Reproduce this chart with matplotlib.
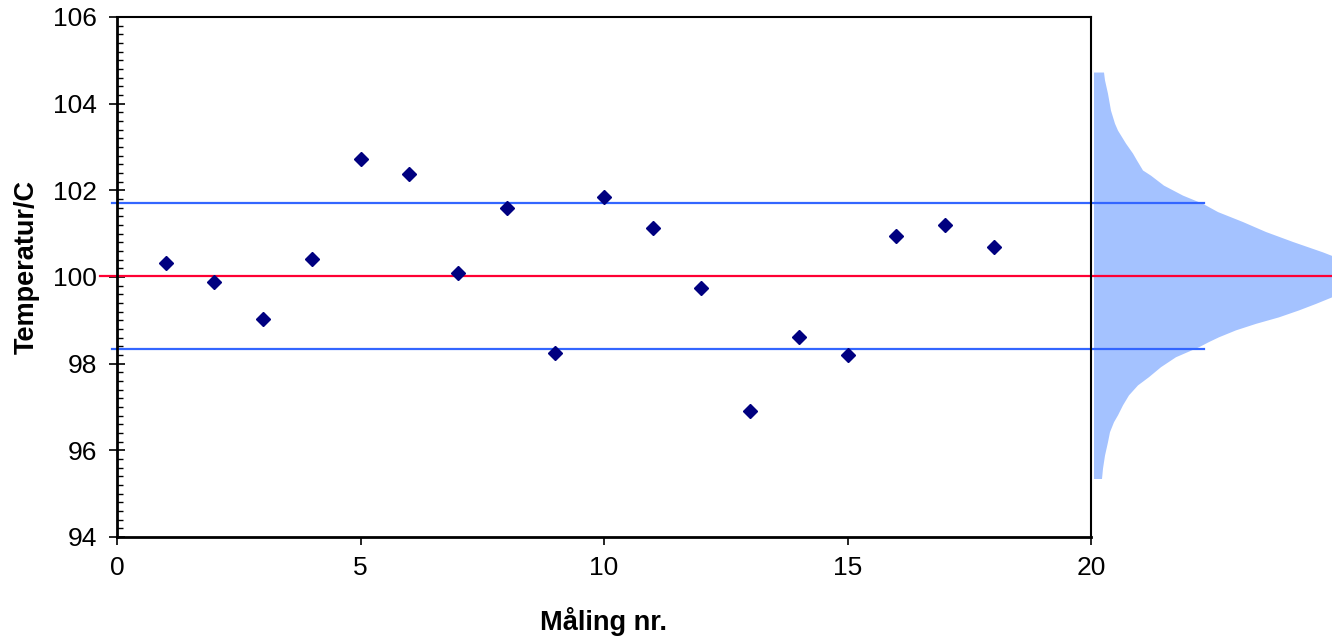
import matplotlib
matplotlib.use("Agg")
from matplotlib import pyplot as plt
from matplotlib.ticker import MultipleLocator

plt.rcParams['font.family'] = ['Liberation Sans', 'DejaVu Sans']

# measurements
nr = list(range(1, 19))
temp = [100.33, 99.88, 99.02, 100.42, 102.72, 102.38, 100.09, 101.59, 98.25,
        101.85, 101.13, 99.75, 96.91, 98.62, 98.20, 100.95, 101.20, 100.69]

# control lines
mean_line = 100.03
upper_line = 101.71
lower_line = 98.35

# distribution on the right (temperature level, width)
dist_t = [104.73, 104.55, 104.24, 103.85, 103.55, 103.39, 103.24, 103.09, 102.86,
          102.70, 102.47, 102.35, 102.12, 101.89, 101.70, 101.51, 101.28, 101.05,
          100.82, 100.58, 100.49, 100.03, 99.55, 99.39, 99.24, 99.08, 98.93,
          98.78, 98.62, 98.51, 98.39, 98.16, 97.93, 97.70, 97.51, 97.28, 97.05,
          96.82, 96.66, 96.43, 96.20, 95.89, 95.59, 95.35]
dist_w = [10, 11, 14, 17, 21, 24, 28, 32, 39,
          43, 49, 57, 70, 89, 109, 124, 149, 172,
          199, 229, 239, 300, 239, 222, 205, 185, 162,
          142, 125, 115, 105, 82, 67, 55, 44, 35, 29,
          24, 20, 16, 14, 11, 9, 8]

W, H = 1332, 638
fig = plt.figure(figsize=(W / 100, H / 100), dpi=100)
ax = fig.add_axes([117 / W, 101 / H, 974 / W, 520 / H])
ax2 = fig.add_axes([1091 / W, 101 / H, 241 / W, 520 / H], sharey=ax)
ax.set_zorder(3)

ax2.fill_betweenx(dist_t, 2.5, [2.5 + w for w in dist_w], color="#A4C2FF", lw=0)
ax2.set_xlim(0, 241)
ax2.axis("off")

ax.plot([-0.35, 26], [mean_line, mean_line], color="#FF0033", lw=1.6, clip_on=False, zorder=2)
for v in (upper_line, lower_line):
    ax.plot([-0.1, 22.32], [v, v], color="#3366FF", lw=1.6, clip_on=False, zorder=2)

ax.plot(nr, temp, linestyle="none", marker="D", markersize=7,
        color="#000080", zorder=4)

ax.set_xlim(0, 20)
ax.set_ylim(94, 106)
ax.xaxis.set_major_locator(MultipleLocator(5))
ax.yaxis.set_major_locator(MultipleLocator(2))
ax.yaxis.set_minor_locator(MultipleLocator(0.2))

for side in ("left", "bottom"):
    ax.spines[side].set_linewidth(2.0)
for side in ("top", "right"):
    ax.spines[side].set_linewidth(1.5)

ax.tick_params(axis="y", which="major", direction="inout", length=11, width=1.2,
               labelsize=19, pad=9)
ax.tick_params(axis="y", which="minor", direction="in", length=4.5, width=1.0)
ax.tick_params(axis="x", which="major", direction="out", length=6, width=1.2,
               labelsize=19, pad=8)

fig.text(27 / W, 1 - 267 / H, "Temperatur/C", rotation=90, ha="center", va="center",
         fontsize=19.5, fontweight="bold")
fig.text(604 / W, 1 - 621 / H, "Måling nr.", ha="center", va="center",
         fontsize=19.5, fontweight="bold")

fig.savefig("out.png", dpi=100)
plt.close()
